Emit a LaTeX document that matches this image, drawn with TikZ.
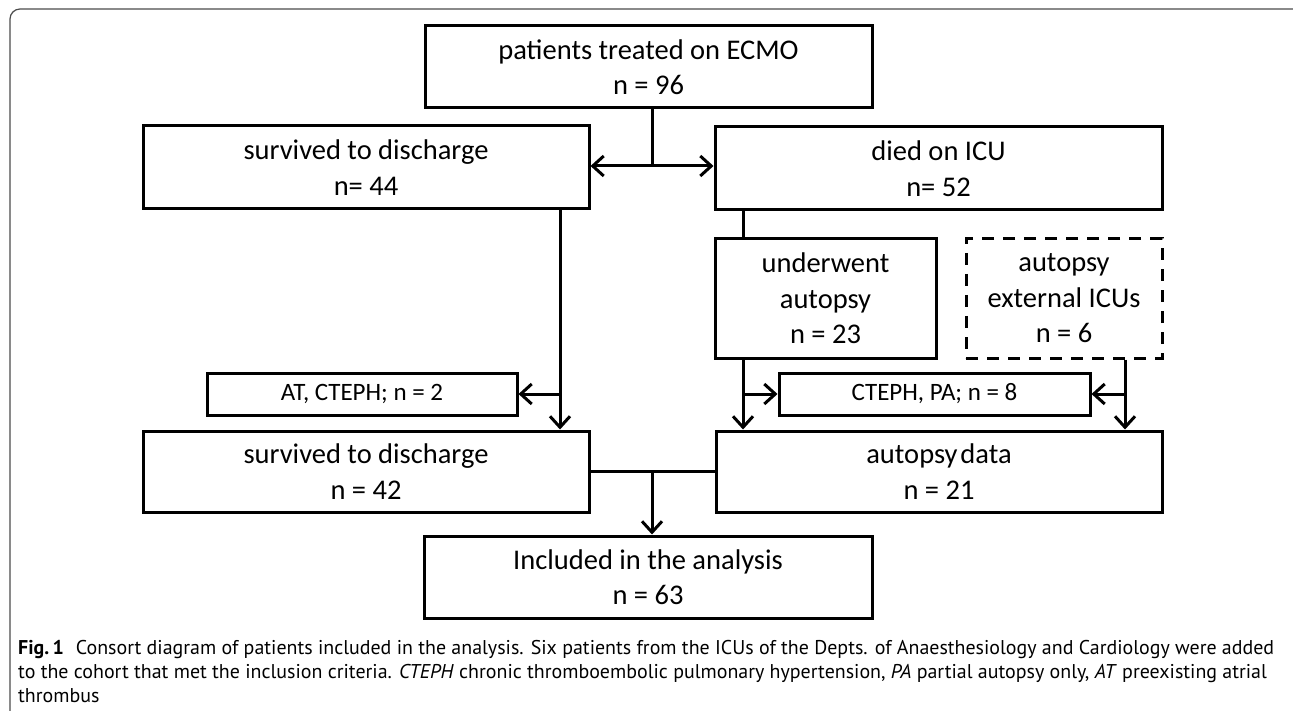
\documentclass[tikz,border=0pt]{standalone}
\usepackage{fontspec}
\usetikzlibrary{arrows.meta}
\newfontfamily\boxfont{Carlito}
\newfontfamily\capfont{PT Sans}
\tikzset{
  box/.style={draw, rectangle, line width=3pt, inner sep=0pt, align=center,
    font=\boxfont\fontsize{28.5}{35.5}\selectfont},
  smallbox/.style={box, font=\boxfont\fontsize{25}{30}\selectfont},
  conn/.style={line width=3pt},
  arr/.style={conn, -{Straight Barb[length=11pt,width=20pt,line width=3pt]}},
  both/.style={conn, {Straight Barb[length=11pt,width=20pt,line width=3pt]}-{Straight Barb[length=11pt,width=20pt,line width=3pt]}},
  capline/.style={anchor=base west, inner sep=0pt, font=\capfont}
}
\newsavebox\capboxA
\newdimen\capwA
\begin{document}
\sbox\capboxA{\capfont\fontsize{18}{18}\selectfont\textbf{Fig.\,1}\hspace{0.6em}Consort diagram of patients included in the analysis. Six patients from the ICUs of the Depts. of Anaesthesiology and Cardiology were added}%
\capwA=\wd\capboxA
\pgfmathsetmacro\capsize{18*(1256/\capwA)}%
\begin{tikzpicture}[x=1pt,y=-1pt]
\useasboundingbox (0,0) rectangle (1293,711);
\begin{scope}
\clip (0,0) rectangle (1293,711);
\draw[black!70, line width=1.2pt, rounded corners=10pt] (10,9) rectangle (1320,740);
\end{scope}

% boxes
\node[box, minimum width=447pt, minimum height=82pt] (top) at (648.5,67) {patients treated on ECMO\\n = 96};
\node[box, minimum width=446pt, minimum height=83pt] (surv1) at (366,167.5) {survived to discharge\\n= 44};
\node[box, minimum width=447pt, minimum height=83pt] (died) at (938.5,168.5) {died on ICU\\n= 52};
\node[box, minimum width=221pt, minimum height=119pt] (under) at (825.5,298.5) {underwent\\autopsy\\n = 23};
\node[box, dash pattern=on 12pt off 9pt, minimum width=196pt, minimum height=119pt] (ext) at (1064,298.5) {autopsy\\external ICUs\\n = 6};
\node[smallbox, minimum width=310pt, minimum height=42pt] (at) at (362,394) {AT, CTEPH; n = 2};
\node[smallbox, minimum width=311pt, minimum height=42pt] (cp) at (934.5,394) {CTEPH, PA; n = 8};
\node[box, minimum width=446pt, minimum height=81pt] (surv2) at (366,471.5) {survived to discharge\\n = 42};
\node[box, minimum width=446pt, minimum height=81pt] (aut) at (939,471.5) {autopsy\hspace{0.1em}data\\n = 21};
\node[box, minimum width=448pt, minimum height=82pt] (inc) at (648,577) {Included in the analysis\\n = 63};

% helper coordinates
\coordinate (j1) at (652,166);
\coordinate (xa) at (560,0);
\coordinate (xb) at (743,0);
\coordinate (xc) at (1125,0);
\coordinate (j2) at (652,471.5);

% connectors
\draw[conn] (top.south -| j1) -- (j1);
\draw[both] (surv1.east |- j1) -- (died.west |- j1);
\draw[conn] (died.south -| xb) -- (under.north -| xb);
\draw[arr] (surv1.south -| xa) -- (surv2.north -| xa);
\draw[arr] (xa |- at.east) -- (at.east);
\draw[arr] (under.south -| xb) -- (aut.north -| xb);
\draw[arr] (xb |- cp.west) -- (cp.west);
\draw[arr] (ext.south -| xc) -- (aut.north -| xc);
\draw[arr] (xc |- cp.east) -- (cp.east);
\draw[conn] (surv2.east) -- (aut.west);
\draw[arr] (j2) -- (inc.north -| j2);

% caption
\node[capline, font=\capfont\fontsize{\capsize}{\capsize}\selectfont] (cap1) at (18,654) {\textbf{Fig.\,1}\hspace{0.6em}Consort diagram of patients included in the analysis. Six patients from the ICUs of the Depts. of Anaesthesiology and Cardiology were added};
\node[capline, font=\capfont\fontsize{\capsize}{\capsize}\selectfont] (cap2) at (18,678) {to the cohort that met the inclusion criteria. \textit{CTEPH} chronic thromboembolic pulmonary hypertension, \textit{PA} partial autopsy only, \textit{AT} preexisting atrial};
\node[capline, font=\capfont\fontsize{\capsize}{\capsize}\selectfont] (cap3) at (18,702) {thrombus};
\end{tikzpicture}
\end{document}
